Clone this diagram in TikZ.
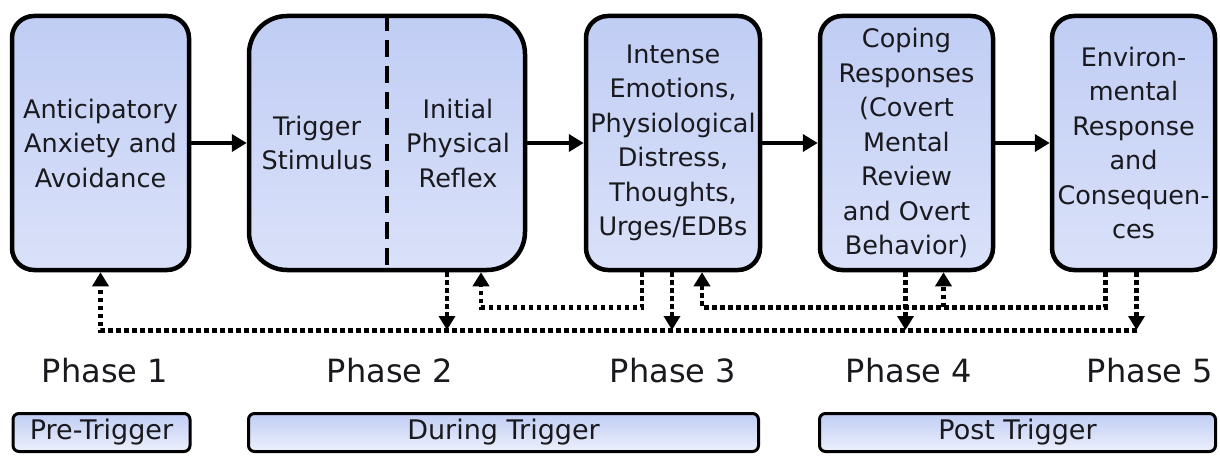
\documentclass[tikz,border=0pt]{standalone}
\usepackage{fontspec}
\setmainfont{DejaVu Sans}
\usetikzlibrary{arrows.meta,calc,positioning}
\definecolor{boxtop}{RGB}{192,205,244}
\definecolor{boxbottom}{RGB}{218,225,249}
\definecolor{inktext}{RGB}{25,25,30}
\tikzset{
    phase-box/.style = {draw=black, line width=4.5pt, rectangle, rounded corners=22pt, top color=boxtop, bottom color=boxbottom, minimum height=254pt, inner sep=0pt, text=inktext, align=center, font=\fontsize{25.5}{34.5}\selectfont},
    span-bar/.style = {draw=black, line width=3pt, rectangle, rounded corners=6pt, top color=boxtop, bottom color=boxbottom!50!white, minimum height=38pt, inner sep=0pt, text=inktext, font=\fontsize{27}{30}\selectfont},
    phase-label/.style = {text=inktext, font=\fontsize{32}{36}\selectfont, anchor=base},
    flow-arrow/.style = {line width=4pt, -{Triangle[length=15pt,width=17pt]}},
    feedback/.style = {line width=4.5pt, dash pattern=on 4.5pt off 3.5pt, -{Triangle[length=14pt,width=16pt]}},
    divider/.style = {line width=4.5pt, dash pattern=on 17pt off 9pt},
}
\begin{document}
\begin{tikzpicture}[x=1pt,y=-1pt]
\useasboundingbox (0,0) rectangle (1220,457);

% the five phase boxes
\node[phase-box, minimum width=177pt] (anticipation) at (100.5,143) {Anticipatory\\Anxiety and\\Avoidance};
\node[phase-box, minimum width=276pt, rounded corners=38pt] (trigger) at (387,143) {};
\node[phase-box, minimum width=174pt] (emotions) at (673,143) {Intense\\Emotions,\\Physiological\\Distress,\\Thoughts,\\Urges/EDBs};
\node[phase-box, minimum width=173pt] (coping) at (906.5,143) {Coping\\Responses\\(Covert\\Mental\\Review\\and Overt\\Behavior)};
\node[phase-box, minimum width=163pt] (environment) at (1133.5,143) {Environ-\\mental\\Response\\and\\Consequen-\\ces};

% the trigger box is split in two
\draw[divider] (trigger.north) -- (trigger.south);
\node[align=center, text=inktext, font=\fontsize{25.5}{34.5}\selectfont] (stimulus) at (317,143) {Trigger\\Stimulus};
\node[align=center, text=inktext, font=\fontsize{25.5}{34.5}\selectfont] (reflex) at (458,143) {Initial\\Physical\\Reflex};

\foreach \a/\b in {anticipation/trigger, trigger/emotions, emotions/coping, coping/environment}
    \draw[flow-arrow] (\a) -- (\b);

% feedback lines
\coordinate (lowbus) at (0,330);
\foreach \src/\dx in {trigger/60, emotions/-1, coping/-1, environment/3}
    \draw[feedback] ($(\src.south)+(\dx,0)$) coordinate (drop) -- (drop |- lowbus);
\draw[feedback] ($(environment.south)+(3,58)$) -| (anticipation.south);
\draw[feedback] ($(emotions.south)+(-31,0)$) -- ++(0,35) -| ($(trigger.south)+(94,0)$);
\draw[feedback] ($(environment.south)+(-28,0)$) -- ++(0,35) -| ($(emotions.south)+(29,0)$);
\draw[feedback] ($(coping.south)+(37,35)$) -- ($(coping.south)+(37,0)$);

% phase numbers
\foreach \n/\x in {1/105, 2/390, 3/673, 4/909, 5/1150}
    \node[phase-label] (phase\n) at (\x,382) {Phase \n};

% time bars
\node[span-bar, minimum width=177pt] (pre) at (101.5,432.5) {Pre-Trigger};
\node[span-bar, minimum width=510pt] (during) at (503.5,432.5) {During Trigger};
\node[span-bar, minimum width=396pt] (post) at (1017.5,432.5) {Post Trigger};
\end{tikzpicture}
\end{document}
